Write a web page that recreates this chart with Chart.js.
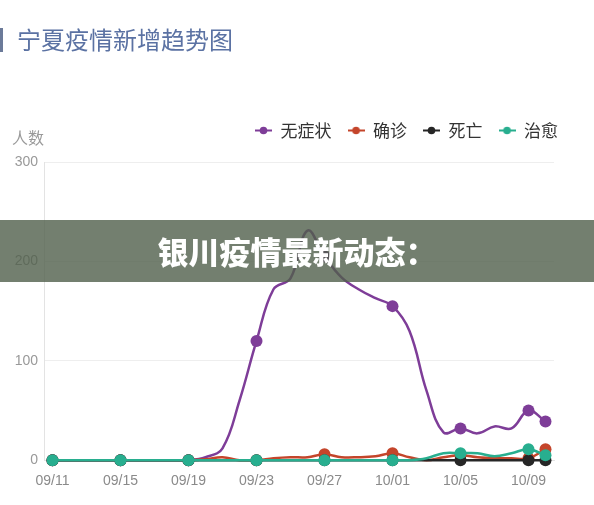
<!DOCTYPE html>
<html>
<head>
<meta charset="utf-8">
<script src="https://cdn.jsdelivr.net/npm/chart.js@4.4.1/dist/chart.umd.min.js"></script>
<style>
    html, body { margin: 0; padding: 0; background: #fff; }
    body { width: 594px; height: 505px; position: relative; overflow: hidden; font-family: "Noto Sans CJK SC", sans-serif; }
    #wrap { position: absolute; left: 0; top: 0; width: 594px; height: 505px; }
    .title-bar { position: absolute; left: 0; top: 28px; width: 3px; height: 24px; background: #6b7a99; }
    .title { position: absolute; left: 17px; top: 23px; font-size: 24px; line-height: 32px; color: #5b72a3; }
    .y-name { position: absolute; left: 12px; top: 126px; font-size: 16px; line-height: 22px; color: #999; }
    .banner { position: absolute; left: 0; top: 220px; width: 594px; height: 62px; background: rgba(80, 95, 75, 0.8);
              color: #fff; font-weight: 900; font-size: 31px; line-height: 62px; text-align: center; }
</style>
</head>
<body>
<div id="wrap"><canvas id="trendChart" width="594" height="505"></canvas></div>
<div class="title-bar"></div>
<div class="title">宁夏疫情新增趋势图</div>
<div class="y-name">人数</div>
<div class="banner">银川疫情最新动态：</div>

<script>
// 宁夏疫情新增趋势 (09/11 - 10/10)

const days = [
    "09/11", "09/12", "09/13", "09/14", "09/15", "09/16", "09/17", "09/18", "09/19", "09/20",
    "09/21", "09/22", "09/23", "09/24", "09/25", "09/26", "09/27", "09/28", "09/29", "09/30",
    "10/01", "10/02", "10/03", "10/04", "10/05", "10/06", "10/07", "10/08", "10/09", "10/10"
];

const asymptomatic = [0, 0, 0, 0, 0, 0, 0, 0, 0, 3, 12, 60, 120, 172, 183, 231, 205, 184, 172, 163, 155, 130, 70, 28, 32, 27, 34, 32, 50, 39];
const confirmed = [0, 0, 0, 0, 0, 0, 0, 0, 0, 1, 3, 0, 0, 2, 3, 3, 6, 3, 3, 4, 7, 3, 0, 3, 5, 3, 2, 2, 2, 11];
const deaths = [0, 0, 0, 0, 0, 0, 0, 0, 0, 0, 0, 0, 0, 0, 0, 0, 0, 0, 0, 0, 0, 0, 0, 0, 0, 0, 0, 0, 0, 0];
const recovered = [0, 0, 0, 0, 0, 0, 0, 0, 0, 0, 0, 0, 0, 0, 0, 0, 0, 0, 0, 0, 0, 0, 2, 7, 7, 7, 4, 7, 11, 5];

const seriesNames = ["无症状", "确诊", "死亡", "治愈"];
const seriesColors = ["#7e3d98", "#c4452b", "#262626", "#28ae8f"];

const yTicks = [0, 100, 200, 300];

Chart.defaults.font.family = '"Liberation Sans", "Noto Sans CJK SC", sans-serif';

// marker only every 4 days plus the last day
function markerRadius(ctx) {
    const i = ctx.dataIndex;
    return (i % 4 === 0 || i === days.length - 1) ? 6 : 0;
}

// legend icon: short line with a dot
function legendIcon(color) {
    const c = document.createElement("canvas");
    c.width = 17;
    c.height = 9;
    const g = c.getContext("2d");
    g.strokeStyle = color;
    g.lineWidth = 2;
    g.beginPath();
    g.moveTo(0, 4.5);
    g.lineTo(17, 4.5);
    g.stroke();
    g.fillStyle = color;
    g.beginPath();
    g.arc(8.5, 4.5, 3.8, 0, Math.PI * 2);
    g.fill();
    return c;
}
const icons = seriesColors.map(legendIcon);

function makeDataset(idx, values) {
    return {
        label: seriesNames[idx],
        data: values,
        borderColor: seriesColors[idx],
        backgroundColor: seriesColors[idx],
        borderWidth: 2.5,
        tension: 0.4,
        pointRadius: markerRadius,
        pointHoverRadius: markerRadius,
        pointBorderWidth: 0,
        clip: false,
        order: 3 - idx
    };
}

// extra space under the legend
const legendGap = {
    id: "legendGap",
    beforeInit(chart) {
        const fit = chart.legend.fit;
        chart.legend.fit = function () {
            fit.call(this);
            this.height += 13;
        };
    }
};

new Chart(document.getElementById("trendChart"), {
    type: "line",
    data: {
        labels: days,
        datasets: [
            makeDataset(0, asymptomatic),
            makeDataset(1, confirmed),
            makeDataset(2, deaths),
            makeDataset(3, recovered)
        ]
    },
    options: {
        responsive: false,
        animation: false,
        devicePixelRatio: 1,
        layout: {
            padding: { top: 106, right: 20, bottom: 2, left: 0 }
        },
        plugins: {
            tooltip: { enabled: false },
            legend: {
                position: "top",
                align: "end",
                labels: {
                    usePointStyle: true,
                    pointStyleWidth: 17,
                    padding: 16,
                    color: "#333",
                    font: { size: 17, family: '"Noto Sans CJK SC", sans-serif' },
                    sort: (a, b) => a.datasetIndex - b.datasetIndex,
                    generateLabels(chart) {
                        const items = Chart.defaults.plugins.legend.labels.generateLabels(chart);
                        items.forEach(item => { item.pointStyle = icons[item.datasetIndex]; });
                        return items;
                    }
                }
            }
        },
        scales: {
            x: {
                offset: true,
                grid: { display: false, drawTicks: false },
                border: { display: true, color: "#e3e3e3" },
                ticks: {
                    autoSkip: false,
                    maxRotation: 0,
                    padding: 13,
                    color: "#8a8a8a",
                    font: { size: 14 },
                    callback: (val, i) => (i % 4 === 0 ? days[i] : "")
                }
            },
            y: {
                min: yTicks[0],
                max: yTicks[yTicks.length - 1],
                afterBuildTicks: scale => { scale.ticks = yTicks.map(v => ({ value: v })); },
                afterFit: scale => { scale.width = 44; },
                grid: { color: "#eeeeee", drawTicks: false },
                border: { display: true, color: "#e3e3e3" },
                ticks: {
                    padding: 6,
                    color: "#999",
                    font: { size: 14 }
                }
            },
            yRight: {
                position: "right",
                display: true,
                grid: { display: false },
                border: { display: false },
                ticks: { display: false },
                afterFit: scale => { scale.width = 20; }
            }
        }
    },
    plugins: [legendGap]
});
</script>
</body>
</html>
